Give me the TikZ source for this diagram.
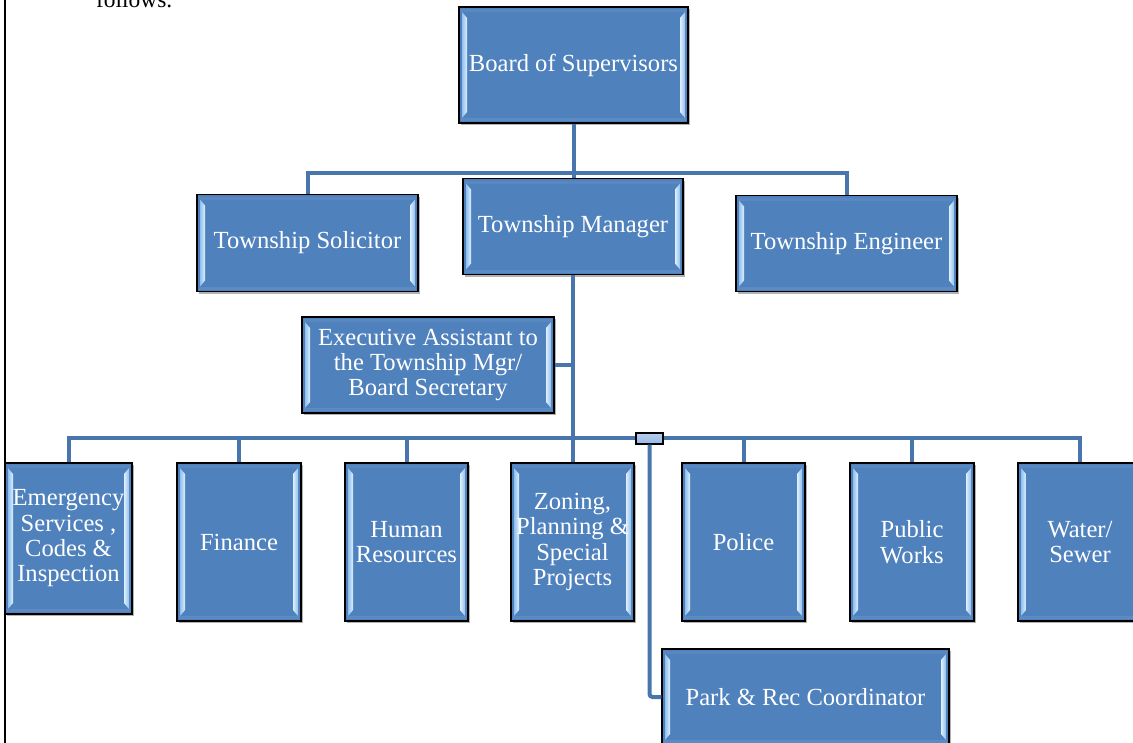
\documentclass[tikz,border=0pt]{standalone}
\usepackage{fontspec}
\setmainfont{Liberation Serif}
\usetikzlibrary{calc,shadows}
\definecolor{boxblue}{RGB}{79,129,189}
\definecolor{lineblue}{RGB}{72,117,172}
\definecolor{bevlight}{RGB}{222,240,253}
\definecolor{bevmid}{RGB}{145,192,238}
\definecolor{hubblue}{RGB}{150,185,228}
\tikzset{
  orgbox/.style={draw=black, line width=1.3pt, fill=boxblue, text=white, align=center,
    inner sep=0pt, font=\fontsize{24.6}{25.3}\selectfont,
    drop shadow={shadow xshift=1.5pt, shadow yshift=-2pt, opacity=.3, fill=black},
    path picture={
      \fill[white, opacity=.06] ($(path picture bounding box.north west)+(2,2)$) rectangle ($(path picture bounding box.north east)+(-2,5)$);
      \fill[white, opacity=.08] ($(path picture bounding box.south west)+(2,-2)$) rectangle ($(path picture bounding box.south east)+(-2,-5)$);
      \shade[left color=bevmid, right color=bevlight]
        ($(path picture bounding box.north west)+(3,5)$) -- ($(path picture bounding box.north west)+(8,11)$)
        -- ($(path picture bounding box.south west)+(8,-11)$) -- ($(path picture bounding box.south west)+(3,-5)$) -- cycle;
      \shade[left color=bevlight, right color=bevmid]
        ($(path picture bounding box.north east)+(-3,5)$) -- ($(path picture bounding box.north east)+(-8,11)$)
        -- ($(path picture bounding box.south east)+(-8,-11)$) -- ($(path picture bounding box.south east)+(-3,-5)$) -- cycle;
    }},
  conn/.style={draw=lineblue, line width=4pt},
  hubbox/.style={draw=black, line width=1.3pt, top color=hubblue!70!white, bottom color=hubblue, minimum width=27pt, minimum height=11pt, inner sep=0pt},
  plain/.style={font=\fontsize{23.4}{25}\selectfont, text=black, inner sep=0pt}
}
\begin{document}
\begin{tikzpicture}[x=1pt, y=-1pt]
\clip (0,0) rectangle (1133,742);
\useasboundingbox (0,0) rectangle (1133,742);
\fill[white] (0,0) rectangle (1133,742);
\draw[black, line width=2pt] (5,-2) coordinate (lt) -- (5,744) coordinate (lb);
\node[plain, anchor=base west] (follows) at (96,7) {follows.};

\node[orgbox, minimum width=229pt, minimum height=116pt] (board) at (573.5,65) {Board of Supervisors};
\node[orgbox, minimum width=221pt, minimum height=97pt] (sol) at (307.5,243) {Township Solicitor};
\node[orgbox, minimum width=220pt, minimum height=96pt] (mgr) at (573,226.5) {Township Manager};
\node[orgbox, minimum width=221pt, minimum height=96pt] (eng) at (846.5,243.5) {Township Engineer};
\node[orgbox, minimum width=252pt, minimum height=96pt] (exec) at (428,365) {Executive Assistant to\\the Township Mgr/\\Board Secretary};

\node[orgbox, minimum width=127pt, minimum height=151pt] (emer) at (68.5,538.5) {Emergency\\Services ,\\Codes \&\\Inspection};
\node[orgbox, minimum width=124pt, minimum height=158pt] (fin) at (239,542) {Finance};
\node[orgbox, minimum width=123pt, minimum height=158pt] (hr) at (406.5,542) {Human\\Resources};
\node[orgbox, minimum width=123pt, minimum height=158pt] (zon) at (572.5,542) {Zoning,\\Planning \&\\Special\\Projects};
\node[orgbox, minimum width=123pt, minimum height=158pt] (pol) at (743.5,542) {Police};
\node[orgbox, minimum width=124pt, minimum height=158pt] (pw) at (912,542) {Public\\Works};
\node[orgbox, minimum width=124pt, minimum height=158pt] (wat) at (1080,542) {Water/\\Sewer};
\node[orgbox, minimum width=287pt, minimum height=96pt] (park) at (805.5,697) {Park \& Rec Coordinator};

\coordinate (bus1) at (573,173);
\coordinate (bus2) at (573,438);

\draw[conn] (board.south) -- (board.south |- mgr.north);
\draw[conn] (sol.north) -- (sol.north |- bus1) -- (eng.north |- bus1) -- (eng.north);
\draw[conn] (mgr.south) -- (mgr.south |- zon.north);
\draw[conn] (exec.east) -- (mgr.south |- exec.east);
\draw[conn] (emer.north) -- (emer.north |- bus2) -- (wat.north |- bus2) -- (wat.north);
\foreach \b in {fin,hr,pol,pw}{
  \draw[conn] (\b.north) -- (\b.north |- bus2);
}
\node[hubbox] (hub) at (649.5,438.5) {};
\draw[conn, rounded corners=3pt] (hub.south) |- (park.west);
\end{tikzpicture}
\end{document}
